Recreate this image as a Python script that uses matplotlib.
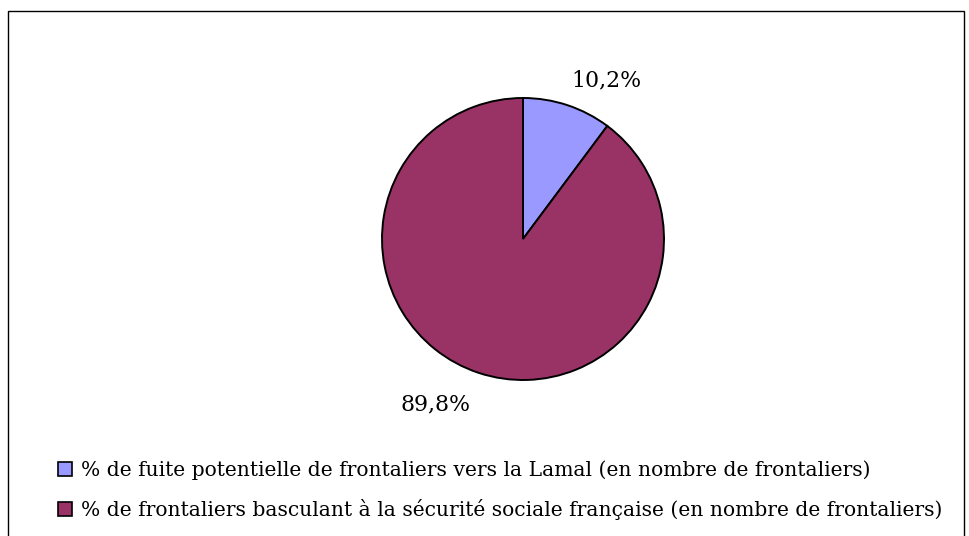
import matplotlib
matplotlib.use("Agg")
import matplotlib.pyplot as plt
from matplotlib.patches import Rectangle, Patch

# data
labels = ["% de fuite potentielle de frontaliers vers la Lamal (en nombre de frontaliers)",
          "% de frontaliers basculant à la sécurité sociale française (en nombre de frontaliers)"]
values = [10.2, 89.8]
colors = ["#9999FF", "#993366"]

plt.rcParams['font.family'] = ['DejaVu Serif']

W, H = 970, 536
fig = plt.figure(figsize=(W / 100, H / 100), dpi=100)

# outer border of the chart area
fig.patches.append(Rectangle((8 / W, -0.05), (964 - 8) / W, 1 - 11 / H + 0.05,
                             transform=fig.transFigure, fill=False,
                             edgecolor="black", linewidth=1.0))

# pie axes: center (523, 239), radius 141 px
cx, cy, r = 523, 239, 141
ax = fig.add_axes([(cx - r) / W, 1 - (cy + r) / H, 2 * r / W, 2 * r / H])
wedges, texts, autotexts = ax.pie(values, colors=colors, startangle=90, counterclock=False,
                                  autopct=lambda p: ("%.1f%%" % p).replace(".", ","),
                                  pctdistance=1.4,
                                  wedgeprops=dict(edgecolor="black", linewidth=1.4),
                                  textprops=dict(fontsize=15.8))
ax.set_xlim(-1, 1)
ax.set_ylim(-1, 1)

# move labels to where excel put them
autotexts[0].set_position(((606 - cx) / r, (cy - 80) / r))
autotexts[1].set_position(((436 - cx) / r, (cy - 404) / r))
for t in autotexts:
    t.set_ha("center")
    t.set_va("center")

handles = [Patch(facecolor=c, edgecolor="black", linewidth=1.2) for c in colors]
fig.legend(handles, labels, loc="center left", bbox_to_anchor=(58 / W, 1 - 490 / H),
           frameon=False, fontsize=14.6, handlelength=0.7, handleheight=0.7,
           handletextpad=0.45, labelspacing=0.95, borderpad=0, borderaxespad=0)

fig.savefig("out.png", dpi=100)
